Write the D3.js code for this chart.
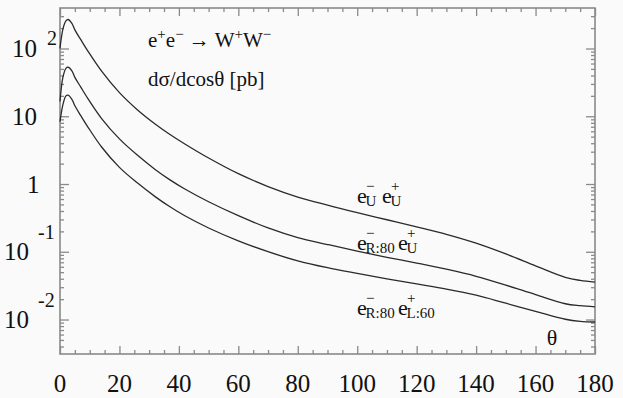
<!DOCTYPE html>
<html>
<head>
<meta charset="utf-8">
<script src="https://cdn.jsdelivr.net/npm/d3@7"></script>
<style>
  body { margin: 0; background: #fafafa; }
  svg { display: block; }
</style>
</head>
<body>
<svg id="chart" width="623" height="398"></svg>
<script>
// angle grid in degrees
var theta = [0, 1, 2, 2.7, 4, 5, 7, 9.5, 14, 20, 26, 32, 37, 42, 50, 60, 70, 80, 90, 100, 110, 120, 130, 140, 150, 160, 170, 175, 180];

// dsigma/dcos(theta) [pb]
var unpol = [100, 195, 255, 268, 235, 188, 135, 90, 46.3, 22.3, 12.5, 7.69, 5.38, 3.90, 2.42, 1.42, 0.918, 0.643, 0.488, 0.378, 0.297, 0.233, 0.181, 0.134, 0.0929, 0.0621, 0.0420, 0.0378, 0.0357];
var r80 = [16.5, 38, 51, 53, 46.9, 37.5, 26.9, 17.9, 9.25, 4.63, 2.67, 1.64, 1.15, 0.843, 0.547, 0.341, 0.225, 0.162, 0.128, 0.102, 0.0828, 0.0681, 0.0553, 0.0435, 0.0322, 0.0233, 0.0171, 0.0160, 0.0154];
var r80l60 = [8.3, 15, 20, 20.5, 17.8, 14.3, 10.2, 6.82, 3.52, 1.76, 1.04, 0.652, 0.461, 0.340, 0.2246, 0.145, 0.1003, 0.0735, 0.0582, 0.0479, 0.0398, 0.0335, 0.0282, 0.0229, 0.0174, 0.0132, 0.0101, 0.0094, 0.0092];

var xTicks = [0, 20, 40, 60, 80, 100, 120, 140, 160, 180];
var yDecades = [100, 10, 1, 0.1, 0.01];

var svg = d3.select("#chart")
    .attr("font-family", "'Liberation Serif', 'Times New Roman', 'DejaVu Serif', serif");
var mLeft = 60, mRight = 595, mTop = 8, mBottom = 354;

var x = d3.scaleLinear().domain([0, 180]).range([mLeft, mRight]);
var y = d3.scaleLog().domain([0.0031, 396]).range([mBottom, mTop]);

svg.append("rect")
    .attr("width", 623).attr("height", 398)
    .attr("fill", "#fafafa");

// minor ticks for the log axis: 2..9 in each decade
var yMinor = [];
[0.001, 0.01, 0.1, 1, 10, 100].forEach(function (d) {
    for (var k = 2; k <= 9; k++) {
        var v = d * k;
        if (v > 0.0031 && v < 396) yMinor.push(v);
    }
});
var xMinor = d3.range(0, 181, 5).filter(d => d % 20 !== 0);

var tickColor = "#8a8a8a";

function styleAxis(g) {
    g.selectAll("path").attr("stroke", "none");
    g.selectAll("line").attr("stroke", tickColor).attr("stroke-width", 1.3);
    g.selectAll("text").remove();
}

// bottom / top
svg.append("g").attr("transform", "translate(0," + mBottom + ")")
    .call(d3.axisBottom(x).tickValues(xTicks).tickSize(-8)).call(styleAxis);
svg.append("g").attr("transform", "translate(0," + mBottom + ")")
    .call(d3.axisBottom(x).tickValues(xMinor).tickSize(-4)).call(styleAxis);
svg.append("g").attr("transform", "translate(0," + mTop + ")")
    .call(d3.axisTop(x).tickValues(xTicks).tickSize(-8)).call(styleAxis);
svg.append("g").attr("transform", "translate(0," + mTop + ")")
    .call(d3.axisTop(x).tickValues(xMinor).tickSize(-4)).call(styleAxis);

// left / right
svg.append("g").attr("transform", "translate(" + mLeft + ",0)")
    .call(d3.axisLeft(y).tickValues(yDecades).tickSize(-9)).call(styleAxis);
svg.append("g").attr("transform", "translate(" + mLeft + ",0)")
    .call(d3.axisLeft(y).tickValues(yMinor).tickSize(-4)).call(styleAxis);
svg.append("g").attr("transform", "translate(" + mRight + ",0)")
    .call(d3.axisRight(y).tickValues(yDecades).tickSize(-9)).call(styleAxis);
svg.append("g").attr("transform", "translate(" + mRight + ",0)")
    .call(d3.axisRight(y).tickValues(yMinor).tickSize(-4)).call(styleAxis);

// frame
svg.append("rect")
    .attr("x", mLeft).attr("y", mTop)
    .attr("width", mRight - mLeft).attr("height", mBottom - mTop)
    .attr("fill", "none")
    .attr("stroke", tickColor)
    .attr("stroke-width", 1.6);

// x tick labels
svg.append("g")
    .selectAll("text")
    .data(xTicks)
    .enter().append("text")
    .attr("x", d => x(d))
    .attr("y", 392)
    .attr("text-anchor", "middle")
    .attr("font-size", 25)
    .attr("fill", "#111")
    .text(d => d);

// y tick labels (10^n style)
var yLabels = [
    { v: 100, base: "10", exp: "2", bx: 12, ex: 47, raise: 12 },
    { v: 10, base: "10", exp: "", bx: 12, ex: 0, raise: 0 },
    { v: 1, base: "1", exp: "", bx: 27, ex: 0, raise: 0 },
    { v: 0.1, base: "10", exp: "-1", bx: 4, ex: 38, raise: 21 },
    { v: 0.01, base: "10", exp: "-2", bx: 4, ex: 38, raise: 21 }
];
var yl = svg.append("g").selectAll("g").data(yLabels).enter().append("g");
yl.append("text")
    .attr("x", d => d.bx)
    .attr("y", d => y(d.v) + 8.5)
    .attr("font-size", 25)
    .attr("fill", "#111")
    .text(d => d.base);
yl.append("text")
    .attr("x", d => d.ex)
    .attr("y", d => y(d.v) + 8.5 - d.raise)
    .attr("font-size", 20)
    .attr("fill", "#111")
    .text(d => d.exp);

// curves
var line = d3.line()
    .x(d => x(d[0]))
    .y(d => y(d[1]))
    .curve(d3.curveCatmullRom.alpha(0.5));

[unpol, r80, r80l60].forEach(function (s) {
    svg.append("path")
        .datum(theta.map((t, i) => [t, s[i]]))
        .attr("d", line)
        .attr("fill", "none")
        .attr("stroke", "#2a2a2a")
        .attr("stroke-width", 1.3);
});

// title
var title = svg.append("text").attr("x", 148).attr("y", 47).attr("font-size", 21).attr("fill", "#111");
title.append("tspan").text("e");
title.append("tspan").attr("dy", -8).attr("font-size", 15).text("+");
title.append("tspan").attr("dy", 8).text("e");
title.append("tspan").attr("dy", -8).attr("font-size", 15).text("\u2212");
title.append("tspan").attr("dy", 8).text(" \u2192 W");
title.append("tspan").attr("dy", -8).attr("font-size", 15).text("+");
title.append("tspan").attr("dy", 8).text("W");
title.append("tspan").attr("dy", -8).attr("font-size", 15).text("\u2212");

svg.append("text").attr("x", 148).attr("y", 86).attr("font-size", 21).attr("fill", "#111")
    .text("d\u03c3/dcos\u03b8 [pb]");

svg.append("text").attr("x", 552).attr("y", 345).attr("font-size", 22).attr("fill", "#111")
    .attr("text-anchor", "middle").text("\u03b8");

// curve labels: e with stacked sub/superscripts
function beam(x0, yb, sub, sup) {
    var g = svg.append("g").attr("fill", "#111");
    g.append("text").attr("x", x0).attr("y", yb).attr("font-size", 22).text("e");
    g.append("text").attr("x", x0 + 8.5).attr("y", yb + 3).attr("font-size", 15).text(sub);
    g.append("text").attr("x", x0 + 9).attr("y", yb - 12).attr("font-size", 15).text(sup);
}
beam(357, 203, "U", "\u2212");
beam(382, 203, "U", "+");
beam(357, 250, "R:80", "\u2212");
beam(398, 250, "U", "+");
beam(357, 315, "R:80", "\u2212");
beam(398, 315, "L:60", "+");
</script>
</body>
</html>
